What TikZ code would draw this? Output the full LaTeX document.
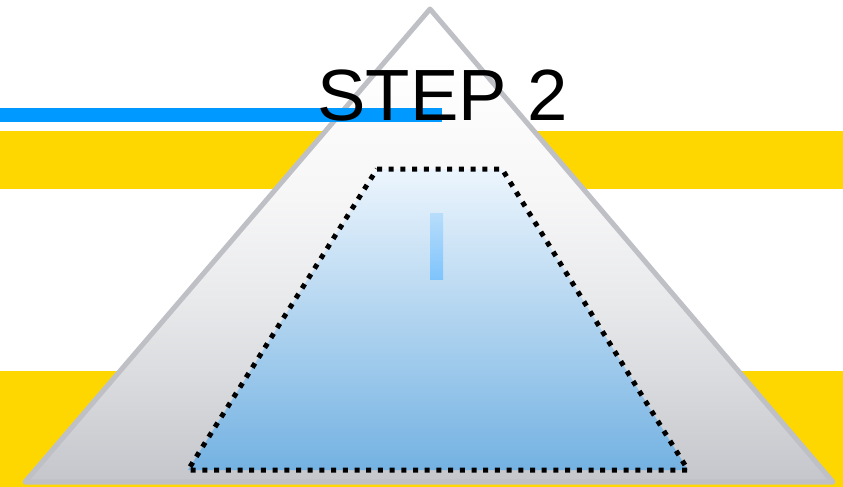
\documentclass[tikz,border=0pt]{standalone}
\usepackage{fontspec}
\setmainfont{Liberation Sans}
\definecolor{yel}{RGB}{255,215,0}
\definecolor{bluline}{RGB}{0,153,255}
\definecolor{trigray}{RGB}{190,192,197}
\definecolor{trapt}{RGB}{236,245,253}
\definecolor{trapb}{RGB}{116,178,226}
\definecolor{rectt}{RGB}{184,221,251}
\definecolor{rectb}{RGB}{126,196,252}
\pgfdeclareverticalshading{trishade}{100bp}{
  rgb(0bp)=(0.769,0.776,0.796);
  rgb(25bp)=(0.769,0.776,0.796);
  rgb(36bp)=(0.855,0.859,0.871);
  rgb(44bp)=(0.910,0.914,0.922);
  rgb(55bp)=(0.965,0.965,0.969);
  rgb(70bp)=(1,1,1);
  rgb(100bp)=(1,1,1)}
\tikzset{
  band/.style={fill=yel, draw=none},
  pyramid/.style={draw=trigray, line width=5pt, line join=round},
  dotframe/.style={draw=black, line width=5pt, dash pattern=on 5pt off 6.7pt},
  title/.style={font=\fontsize{72.6}{80}\selectfont, inner sep=0pt, anchor=base, text=black}
}
\begin{document}
\begin{tikzpicture}[x=1pt,y=-1pt]
\useasboundingbox (0,0) rectangle (843,487);
% yellow bands
\fill[band] (0,131) rectangle (843,189);
\fill[band] (0,371) rectangle (843,487);
% pyramid
\coordinate (apex) at (430,9);
\coordinate (bl) at (25,482);
\coordinate (br) at (833,482);
\shade[shading=trishade] (apex) -- (bl) -- (br) -- cycle;
\draw[pyramid] (apex) -- (bl) -- (br) -- cycle;
% inner trapezoid
\coordinate (tl) at (377,169);
\coordinate (tr) at (502,169);
\coordinate (qr) at (688,470);
\coordinate (ql) at (188,470);
\shade[top color=trapt, bottom color=trapb] (tl) -- (tr) -- (qr) -- (ql) -- cycle;
\draw[dotframe] (tl) -- (tr) -- (qr) -- (ql) -- cycle;
% small bar
\shade[top color=rectt, bottom color=rectb] (430,213) rectangle (443,279);
% blue line
\fill[bluline] (0,108) rectangle (442,122);
% title
\node[title] (t) at (442.5,120) {STEP 2};
\end{tikzpicture}
\end{document}
